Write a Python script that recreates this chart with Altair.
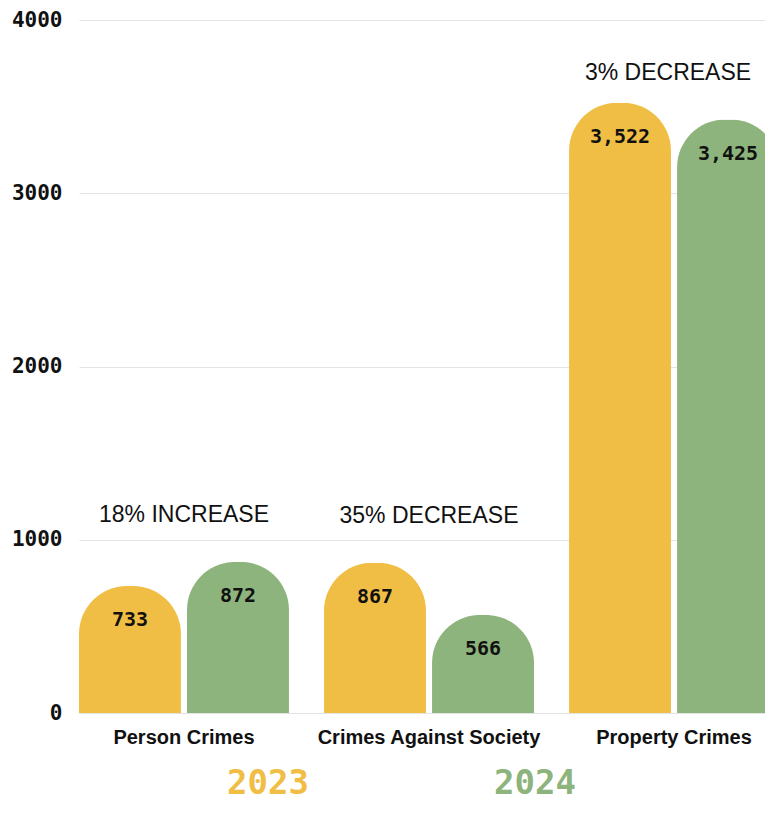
import altair as alt
import pandas as pd

categories = ["Person Crimes", "Crimes Against Society", "Property Crimes"]
years = ["2023", "2024"]
values_2023 = [733, 867, 3522]
values_2024 = [872, 566, 3425]
annotations = ["18% INCREASE", "35% DECREASE", "3% DECREASE"]
colors = ["#F0BE45", "#8DB47C"]
y_ticks = [0, 1000, 2000, 3000, 4000]

rows = []
for c, a, b in zip(categories, values_2023, values_2024):
    rows.append({"category": c, "year": years[0], "value": a})
    rows.append({"category": c, "year": years[1], "value": b})
bars_df = pd.DataFrame(rows)
ann_df = pd.DataFrame({
    "category": categories,
    "text": annotations,
    "top": [max(a, b) for a, b in zip(values_2023, values_2024)],
})

x_enc = alt.X(
    "category:N", sort=categories,
    scale=alt.Scale(range=[0, 700], paddingInner=0.143, paddingOuter=0),
    axis=alt.Axis(title=None, labelAngle=0, domain=False, ticks=False, labelLimit=0,
                  labelFont="Liberation Sans", labelFontWeight="bold",
                  labelFontSize=20, labelColor="#111111", labelPadding=14),
)
xoff = alt.XOffset("year:N", sort=years,
                   scale=alt.Scale(paddingInner=0.056, paddingOuter=0))


def y_enc(field):
    return alt.Y(
        field, scale=alt.Scale(domain=[0, 4000], nice=False),
        axis=alt.Axis(title=None, values=y_ticks, format="d", domain=False, ticks=False,
                      labelFont="DejaVu Sans Mono", labelFontWeight="bold",
                      labelFontSize=21, labelColor="#111111", labelPadding=17,
                      gridColor="#e3e3e3", gridWidth=1),
    )


legend = alt.Legend(
    title=None, orient="none", legendX=114, legendY=747, direction="horizontal",
    symbolSize=0, symbolOpacity=0, symbolStrokeWidth=0, labelOffset=0,
    columnPadding=151, labelFont="DejaVu Sans Mono", labelFontWeight="bold",
    labelFontSize=34,
    labelColor=alt.ExprRef(f"datum.label == '{years[0]}' ? '{colors[0]}' : '{colors[1]}'"),
)

base = alt.Chart(bars_df)

bars = base.mark_bar(cornerRadiusTopLeft=48, cornerRadiusTopRight=48).encode(
    x=x_enc, xOffset=xoff, y=y_enc("value:Q"),
    color=alt.Color("year:N", scale=alt.Scale(domain=years, range=colors), legend=legend),
)

labels = base.mark_text(dy=34, baseline="middle", font="DejaVu Sans Mono",
                        fontWeight="bold", fontSize=20, color="#111111").encode(
    x=x_enc, xOffset=xoff, y=y_enc("value:Q"),
    text=alt.Text("value:Q", format=","),
)

ann_base = alt.Chart(ann_df)
ann_low = ann_base.transform_filter("datum.top < 3000").mark_text(
    dy=-47, baseline="middle", font="Liberation Sans", fontSize=23, color="#111111"
).encode(x=x_enc, y=y_enc("top:Q"), text="text:N")
ann_high = ann_base.transform_filter("datum.top >= 3000").mark_text(
    dy=-30, dx=-6, baseline="middle", font="Liberation Sans", fontSize=23, color="#111111"
).encode(x=x_enc, y=y_enc("top:Q"), text="text:N")

chart = alt.layer(bars, labels, ann_low, ann_high).properties(
    width=686, height=693,
    autosize=alt.AutoSizeParams(type="none"),
    padding={"left": 71, "top": 12, "right": 0, "bottom": 92},
).configure_view(stroke=None)

chart.save("out.html", embed_options={"renderer": "svg", "actions": False})
